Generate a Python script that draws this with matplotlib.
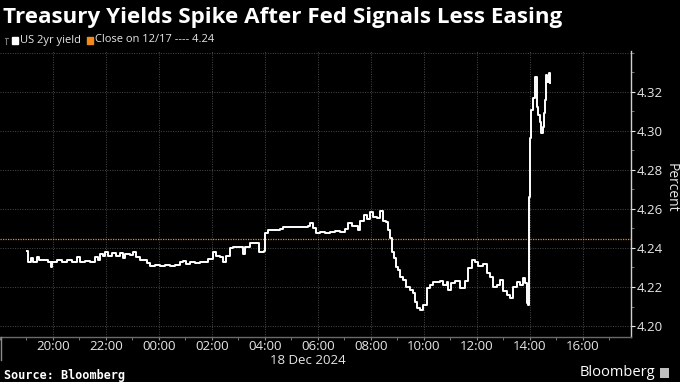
import matplotlib
matplotlib.use("Agg")
import matplotlib.pyplot as plt
import matplotlib.dates as mdates
from matplotlib.ticker import MultipleLocator, FixedLocator
import pandas as pd
import numpy as np

# ---------------- data ----------------
times = ["19:01","19:03","19:10","19:15","19:24","19:28","19:40","19:49","19:55","19:58",
         "20:09","20:20","20:32","20:43","20:54","21:01","21:12","21:24","21:35","21:42",
         "21:46","21:53","21:58","22:04","22:14","22:23","22:32","22:38","22:43","22:54",
         "23:01","23:08","23:17","23:28","23:33","23:40","23:51","00:02","00:14","00:25",
         "00:36","00:48","00:54","01:01","01:10","01:21","01:33","01:44","01:51","02:02",
         "02:09","02:18","02:25","02:32","02:41","02:48","02:59","03:10","03:15","03:26",
         "03:37","03:46","03:58","04:00","04:06","04:22","04:34","04:40","04:56","05:12",
         "05:26","05:37","05:42","05:49","05:55","06:05","06:16","06:27","06:38","06:50",
         "07:01","07:08","07:17","07:28","07:30","07:35","07:44","07:51","07:58","08:05",
         "08:14","08:21","08:28","08:34","08:39","08:43","08:48","08:52","08:57","09:01",
         "09:06","09:12","09:19","09:28","09:35","09:40","09:44","09:51","09:58","10:07",
         "10:14","10:20","10:29","10:36","10:43","10:52","10:54","11:01","11:10","11:22",
         "11:33","11:40","11:49","11:56","12:02","12:14","12:23","12:29","12:36","12:45",
         "12:52","12:59","13:08","13:15","13:22","13:31","13:37","13:44","13:49","13:53",
         "13:55","13:58","14:00","14:02","14:07","14:11","14:16","14:18","14:23","14:25",
         "14:30","14:32","14:34","14:37","14:39","14:43","14:45"]
yields = [4.2386,4.233,4.235,4.233,4.2355,4.2338,4.234,4.233,4.230,4.233,
          4.234,4.233,4.234,4.233,4.2355,4.233,4.2335,4.233,4.2355,4.234,
          4.237,4.236,4.238,4.236,4.2375,4.236,4.2375,4.235,4.237,4.2365,
          4.238,4.2355,4.234,4.234,4.2325,4.231,4.2315,4.231,4.2315,4.231,
          4.2315,4.233,4.2335,4.232,4.233,4.2325,4.233,4.233,4.2345,4.238,
          4.236,4.2355,4.233,4.236,4.240,4.2405,4.2405,4.237,4.2405,4.2425,
          4.2425,4.238,4.2385,4.2476,4.249,4.249,4.2495,4.2505,4.2505,4.2505,
          4.2505,4.251,4.253,4.250,4.2476,4.248,4.2476,4.248,4.2485,4.248,
          4.2495,4.253,4.2513,4.2513,4.249,4.254,4.257,4.255,4.2585,4.256,
          4.2555,4.259,4.254,4.2535,4.249,4.245,4.238,4.235,4.2304,4.2287,
          4.2252,4.2236,4.2201,4.2184,4.217,4.2124,4.209,4.208,4.2107,4.2193,
          4.221,4.2227,4.2225,4.223,4.221,4.2225,4.2184,4.222,4.223,4.2195,
          4.223,4.2297,4.2338,4.233,4.231,4.232,4.2271,4.2252,4.2201,4.221,
          4.2236,4.218,4.216,4.2143,4.2201,4.2225,4.221,4.2246,4.222,4.2118,
          4.211,4.266,4.2963,4.3106,4.3168,4.3277,4.3123,4.308,4.3046,4.2988,
          4.302,4.309,4.3157,4.3285,4.325,4.3295,4.3244]
close_prev = 4.2446
ytick_vals = [4.20, 4.22, 4.24, 4.26, 4.28, 4.30, 4.32]
xtick_labels = ["20:00","22:00","00:00","02:00","04:00","06:00","08:00","10:00","12:00","14:00","16:00"]

def to_ts(t):
    h = int(t.split(":")[0])
    day = "2024-12-17" if h >= 18 else "2024-12-18"
    return pd.Timestamp(f"{day} {t}")

ts = [to_ts(t) for t in times]
tick_ts = [to_ts(t) for t in xtick_labels]

# ---------------- figure ----------------
W, H = 680, 382
fig = plt.figure(figsize=(W/100, H/100), dpi=100, facecolor="black")
ax = fig.add_axes([0, (H-337)/H, 631/W, (337-50.5)/H], facecolor="black")

grid_c = "#4a4a4a"
ax.plot(ts, yields, color="white", lw=1.4, drawstyle="steps-post", zorder=3)
ax.axhline(close_prev, color="#f28a1a", lw=0.9, ls=(0, (1, 1)), zorder=2)

ax.set_xlim(pd.Timestamp("2024-12-17 18:00"), pd.Timestamp("2024-12-18 17:49"))
ax.set_ylim(4.1944, 4.3411)

ax.xaxis.set_major_locator(FixedLocator(mdates.date2num(tick_ts)))
ax.set_xticklabels(xtick_labels)
ax.xaxis.set_minor_locator(mdates.HourLocator())
ax.yaxis.set_major_locator(FixedLocator(ytick_vals))
ax.set_yticklabels([f"{v:.2f}" for v in ytick_vals])
ax.yaxis.set_minor_locator(MultipleLocator(0.01))
ax.yaxis.tick_right()

for v in ytick_vals + [4.34]:
    ax.axhline(v, color=grid_c, lw=0.7, ls=(0, (1, 1.5)), zorder=1)
for t in tick_ts:
    ax.axvline(t, color=grid_c, lw=0.7, ls=(0, (1, 1.5)), zorder=1)

for s in ["top", "left"]:
    ax.spines[s].set_visible(False)
ax.spines["right"].set_color("#d0d0d0")
ax.spines["bottom"].set_color("#6a6a6a")
ax.spines["right"].set_linewidth(1.0)
ax.spines["bottom"].set_linewidth(1.0)

lab_font = "Open Sans"
ax.tick_params(axis="y", which="major", colors="#e6e6e6", length=3, width=0.8,
               labelsize=9.5, pad=1)
ax.tick_params(axis="y", which="minor", colors="#888888", length=2, width=0.6)
ax.tick_params(axis="x", which="major", colors="#8a8a8a", labelcolor="#e6e6e6",
               length=2, width=0.8, labelsize=9.5, pad=0)
ax.tick_params(axis="x", which="minor", colors="#8a8a8a", length=2, width=0.6)
for lab in ax.get_xticklabels() + ax.get_yticklabels():
    lab.set_fontfamily(lab_font)

fig.text(671/W, 1-188/H, "Percent", color="#e6e6e6", fontsize=10, rotation=-90,
         ha="center", va="center", fontfamily=lab_font)

# date label and separator
fig.text(308/W, 1-360/H, "18 Dec 2024", color="#e6e6e6", fontsize=9.5,
         ha="center", va="center", fontfamily=lab_font)
fig.add_artist(plt.Line2D([0.7/W, 0.7/W], [1-337/H, 1-360/H], color="#8a8a8a", lw=1))

# title
fig.text(3/W, 1-17/H, "Treasury Yields Spike After Fed Signals Less Easing",
         color="white", fontsize=16.1, fontweight="bold", ha="left", va="center",
         fontfamily="Open Sans")

# legend
fig.patches.append(plt.Rectangle((12/W, 1-44/H), 6/W, 7/H, color="white",
                                 transform=fig.transFigure))
fig.text(20/W, 1-40/H, "US 2yr yield", color="#e6e6e6", fontsize=8,
         ha="left", va="center", fontfamily=lab_font)
fig.patches.append(plt.Rectangle((87/W, 1-44/H), 6/W, 7/H, color="#f28a1a",
                                 transform=fig.transFigure))
fig.text(95/W, 1-40/H, "Close on 12/17 ---- 4.24", color="#e6e6e6", fontsize=8,
         ha="left", va="center", fontfamily=lab_font)
fig.add_artist(plt.Line2D([6/W, 6/W], [1-38/H, 1-44/H], color="#777777", lw=0.8))
fig.add_artist(plt.Line2D([4.5/W, 7.5/W], [1-38/H, 1-38/H], color="#777777", lw=0.8))

# footer
fig.text(4/W, 1-375/H, "Source: Bloomberg", color="white", fontsize=8.5,
         fontweight="bold", ha="left", va="center", fontfamily="DejaVu Sans Mono")
fig.text(655/W, 1-373/H, "Bloomberg", color="white", fontsize=10.5,
         ha="right", va="center", fontfamily="Open Sans")
fig.patches.append(plt.Rectangle((660/W, 1-378/H), 9/W, 10/H, facecolor="#bfbfbf",
                                 edgecolor="none", transform=fig.transFigure))

fig.savefig("out.png", dpi=100, facecolor="black")
